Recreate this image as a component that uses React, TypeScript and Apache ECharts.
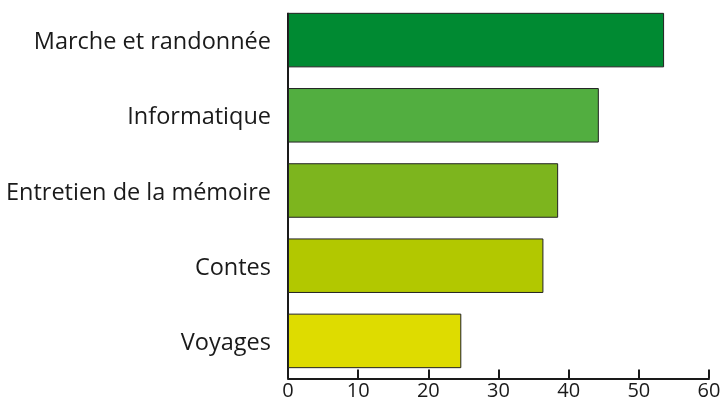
import React, { useEffect, useRef } from "react";
import * as echarts from "echarts";

const categories = ["Marche et randonnée", "Informatique", "Entretien de la mémoire", "Contes", "Voyages"];
const values = [53.6, 44.3, 38.5, 36.4, 24.7];
const barColors = ["#008a32", "#52ae40", "#7db51e", "#b2c800", "#dedc00"];
const xTicks = [0, 10, 20, 30, 40, 50, 60];

export default function App() {
  const ref = useRef<HTMLDivElement>(null);
  useEffect(() => {
    if (!ref.current) return;
    const chart = echarts.init(ref.current, undefined, { renderer: "svg" });
    chart.setOption({
      animation: false,
      grid: { left: 288, right: 15, top: 2.5, bottom: 23.5, containLabel: false },
      xAxis: {
        type: "value",
        min: xTicks[0],
        max: xTicks[xTicks.length - 1],
        interval: 10,
        axisLine: { show: true, lineStyle: { color: "#1a1a1a", width: 2 } },
        axisTick: { show: true, inside: true, length: 9, lineStyle: { color: "#1a1a1a", width: 2 } },
        axisLabel: { color: "#1a1a1a", fontSize: 20, lineHeight: 16, fontFamily: "Open Sans", margin: 3 },
        splitLine: { show: false },
      },
      yAxis: {
        type: "category",
        data: categories,
        inverse: true,
        axisLine: { show: false },
        axisTick: { show: false },
        axisLabel: { color: "#1a1a1a", fontSize: 23.5, fontFamily: "Open Sans", margin: 17 },
      },
      series: [
        {
          type: "bar",
          data: values.map((v, i) => ({ value: v, itemStyle: { color: barColors[i] } })),
          barCategoryGap: "27.5%",
          itemStyle: { borderColor: "#222", borderWidth: 1 },
        },
      ],
    });
    const top = chart.convertToPixel({ yAxisIndex: 0 }, 0) as number;
    const bottom = chart.convertToPixel({ yAxisIndex: 0 }, categories.length - 1) as number;
    const x0 = chart.convertToPixel({ xAxisIndex: 0 }, 0) as number;
    const pitch = (bottom - top) / (categories.length - 1);
    const half = pitch * (1 - 0.275) / 2;
    chart.setOption({
      graphic: [
        {
          type: "line",
          shape: { x1: x0, y1: top - half, x2: x0, y2: bottom + pitch / 2 },
          style: { stroke: "#1a1a1a", lineWidth: 2 },
        },
      ],
    });
    return () => chart.dispose();
  }, []);
  return <div ref={ref} style={{ position: "fixed", left: 0, top: 0, width: 724, height: 402 }} />;
}
